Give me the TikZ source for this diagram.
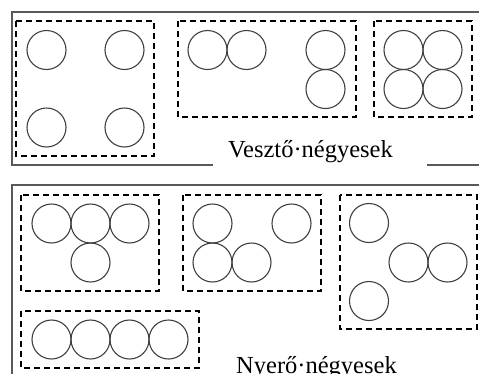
\documentclass[tikz,border=0pt]{standalone}
\usepackage{fontspec}
\setmainfont{Liberation Serif}
\begin{document}
\begin{tikzpicture}[x=1pt,y=-1pt,
  frame/.style={draw=black!65,line width=1.4pt},
  group/.style={draw=black,line width=2pt,dash pattern=on 6pt off 4pt},
  coin/.style={circle,draw=black!75,line width=1.1pt,minimum size=39pt,inner sep=0pt},
  label/.style={font=\fontsize{24.5}{28}\selectfont,inner sep=0pt,anchor=base west}]
\useasboundingbox (0,0) rectangle (479,373);
\fill[white] (0,0) rectangle (479,373);
% top panel frame
\draw[frame] (479,12) -- (12,12) -- (12,165) -- (213,165);
\draw[frame] (427,165) -- (479,165);
\node[label] (vt) at (228,157.5) {Vesztő·négyesek};
% top groups
\draw[group] (16,21) rectangle (154,156);
\node[coin] (a1) at (46.5,50) {};
\node[coin] (a2) at (124.5,50) {};
\node[coin] (a3) at (46.5,127.5) {};
\node[coin] (a4) at (124.5,127.5) {};
\draw[group] (178,21) rectangle (356,117);
\node[coin] (b1) at (207.5,50) {};
\node[coin] (b2) at (246.5,50) {};
\node[coin] (b3) at (325.5,50) {};
\node[coin] (b4) at (325.5,89) {};
\draw[group] (374,21) rectangle (472,117);
\node[coin] (c1) at (403.5,50) {};
\node[coin] (c2) at (442.5,50) {};
\node[coin] (c3) at (403.5,89) {};
\node[coin] (c4) at (442.5,89) {};
% bottom panel frame
\draw[frame] (479,185) -- (12,185) -- (12,374);
\node[label] (nt) at (236,373) {Nyerő·négyesek};
% bottom groups
\draw[group] (21,195) rectangle (159,291);
\node[coin] (d1) at (51.5,223.5) {};
\node[coin] (d2) at (90.5,223.5) {};
\node[coin] (d3) at (129.5,223.5) {};
\node[coin] (d4) at (90.5,262.5) {};
\draw[group] (183,195) rectangle (321,291);
\node[coin] (e1) at (212.5,223.5) {};
\node[coin] (e2) at (291.5,223.5) {};
\node[coin] (e3) at (212.5,262.5) {};
\node[coin] (e4) at (251.5,262.5) {};
\draw[group] (340,195) rectangle (477,329);
\node[coin] (f1) at (369,223) {};
\node[coin] (f2) at (408.5,262.5) {};
\node[coin] (f3) at (447.5,262.5) {};
\node[coin] (f4) at (369,301) {};
\draw[group] (21,311) rectangle (199,368);
\node[coin] (g1) at (51.5,339.5) {};
\node[coin] (g2) at (90.5,339.5) {};
\node[coin] (g3) at (129.5,339.5) {};
\node[coin] (g4) at (168.5,339.5) {};
\end{tikzpicture}
\end{document}
